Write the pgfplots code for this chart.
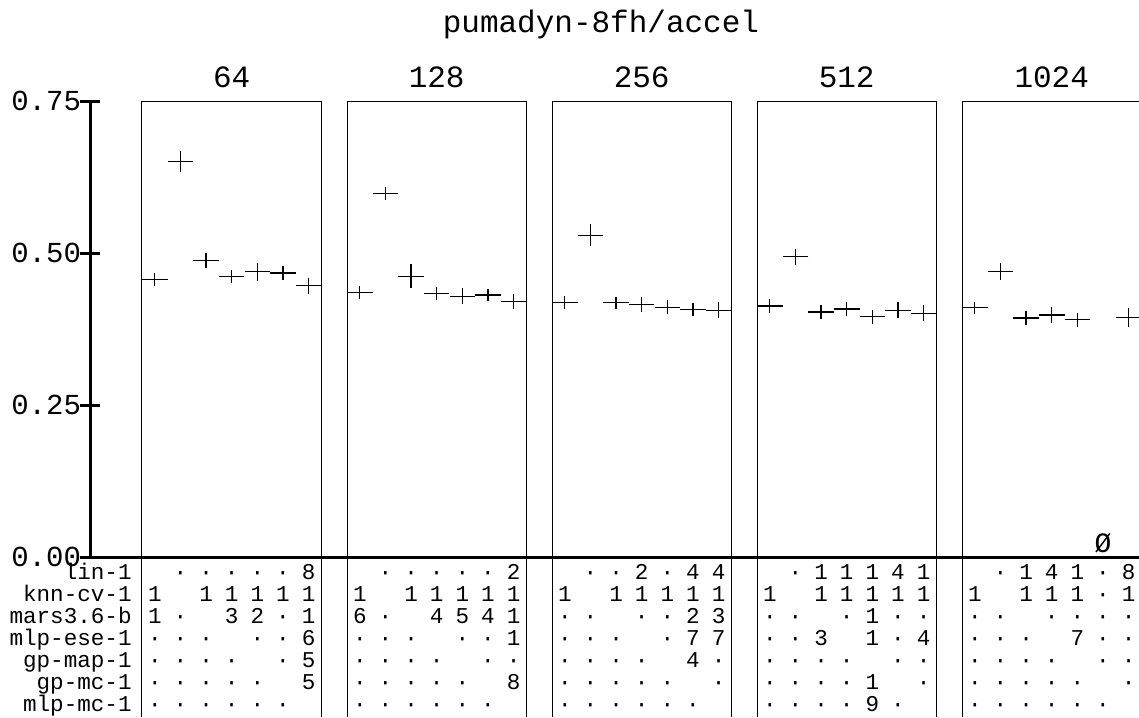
\documentclass[border=0pt]{standalone}
\usepackage{pgfplots}
\pgfplotsset{compat=1.18}
\usepackage{pgfplotstable}
\usepackage{fontspec}
\setmainfont{Liberation Mono}

% x = 8*panel + slot + 0.5, y = mean, e = half error bar
\pgfplotstableread{
x y e
0.5 0.456 0.011
1.5 0.651 0.017
2.5 0.488 0.012
3.5 0.461 0.011
4.5 0.469 0.015
5.5 0.467 0.011
6.5 0.446 0.013
8.5 0.435 0.010
9.5 0.598 0.010
10.5 0.462 0.020
11.5 0.433 0.011
12.5 0.429 0.013
13.5 0.431 0.010
14.5 0.420 0.012
16.5 0.419 0.011
17.5 0.529 0.018
18.5 0.418 0.010
19.5 0.415 0.012
20.5 0.411 0.012
21.5 0.407 0.011
22.5 0.406 0.013
24.5 0.413 0.012
25.5 0.494 0.013
26.5 0.403 0.012
27.5 0.408 0.012
28.5 0.395 0.012
29.5 0.406 0.013
30.5 0.401 0.013
32.5 0.410 0.010
33.5 0.470 0.014
34.5 0.393 0.011
35.5 0.398 0.013
36.5 0.390 0.012
38.5 0.394 0.016
}\results

\newcommand\bigfont{\fontsize{15.5}{18}\selectfont}
\newcommand\tabfont{\fontsize{11.3}{13}\selectfont}
% #1 panel, #2 row, #3 seven cells
\newcommand\tabrow[3]{%
  \foreach \v [count=\j from 0] in {#3}{%
    \node[anchor=base, font=\tabfont, inner sep=0pt]
      at ({26pt+12.8125pt*(8*#1+\j+0.5)}, {-11.25pt-11pt*#2}) {\v};}}

\begin{document}
\begin{tikzpicture}
\begin{axis}[
  scale only axis, width=524.5pt, height=228pt,
  xmin=-2.029, xmax=38.907, ymin=0, ymax=0.75,
  axis lines=left, axis line style={line width=1.5pt,-},
  xtick=\empty, ytick={0,0.25,0.5,0.75},
  yticklabel style={xshift=4pt, /pgf/number format/.cd, fixed, fixed zerofill, precision=2},
  /pgf/number format/assume math mode=true,
  tick align=center, major tick length=10pt,
  tick style={line width=1.5pt, black},
  ticklabel style={font=\fontsize{14.5}{17}\selectfont},
  clip=false,
]
\draw[line width=0.5pt] (axis cs:0,-0.2632) -- (axis cs:0,0.75) -- (axis cs:7,0.75) -- (axis cs:7,-0.2632);
\draw[line width=0.5pt] (axis cs:8,-0.2632) -- (axis cs:8,0.75) -- (axis cs:15,0.75) -- (axis cs:15,-0.2632);
\draw[line width=0.5pt] (axis cs:16,-0.2632) -- (axis cs:16,0.75) -- (axis cs:23,0.75) -- (axis cs:23,-0.2632);
\draw[line width=0.5pt] (axis cs:24,-0.2632) -- (axis cs:24,0.75) -- (axis cs:31,0.75) -- (axis cs:31,-0.2632);
\draw[line width=0.5pt] (axis cs:32,-0.2632) -- (axis cs:32,0.75) -- (axis cs:39,0.75) -- (axis cs:39,-0.2632);

\addplot[only marks, black, mark=-, mark size=6.4pt,
  mark options={line width=0.6pt},
  error bars/.cd, y dir=both, y explicit, error mark=none,
  error bar style={line width=0.6pt}]
  table[x=x, y=y, y error=e] {\results};

\node[anchor=base, font=\bigfont] at (axis cs:17.91,0.8635) {pumadyn-8fh/accel};
\node[anchor=base, font=\bigfont] at (axis cs:3.5,0.773) {64};
\node[anchor=base, font=\bigfont] at (axis cs:11.5,0.773) {128};
\node[anchor=base, font=\bigfont] at (axis cs:19.5,0.773) {256};
\node[anchor=base, font=\bigfont] at (axis cs:27.5,0.773) {512};
\node[anchor=base, font=\bigfont] at (axis cs:35.5,0.773) {1024};
\node[anchor=base, font=\fontsize{14}{16}\selectfont] at (axis cs:37.5,0.0082) {Ø};
\end{axis}

% row labels
\foreach \lab [count=\i from 0] in {lin-1,knn-cv-1,mars3.6-b,mlp-ese-1,gp-map-1,gp-mc-1,mlp-mc-1}
  \node[anchor=base east, font=\tabfont, inner sep=0pt] at (21pt,{-11.25pt-11pt*\i}) {\lab};

% panel 64
\tabrow{0}{0}{{},·,·,·,·,·,8}
\tabrow{0}{1}{1,{},1,1,1,1,1}
\tabrow{0}{2}{1,·,{},3,2,·,1}
\tabrow{0}{3}{·,·,·,{},·,·,6}
\tabrow{0}{4}{·,·,·,·,{},·,5}
\tabrow{0}{5}{·,·,·,·,·,{},5}
\tabrow{0}{6}{·,·,·,·,·,·,{}}
% panel 128
\tabrow{1}{0}{{},·,·,·,·,·,2}
\tabrow{1}{1}{1,{},1,1,1,1,1}
\tabrow{1}{2}{6,·,{},4,5,4,1}
\tabrow{1}{3}{·,·,·,{},·,·,1}
\tabrow{1}{4}{·,·,·,·,{},·,·}
\tabrow{1}{5}{·,·,·,·,·,{},8}
\tabrow{1}{6}{·,·,·,·,·,·,{}}
% panel 256
\tabrow{2}{0}{{},·,·,2,·,4,4}
\tabrow{2}{1}{1,{},1,1,1,1,1}
\tabrow{2}{2}{·,·,{},·,·,2,3}
\tabrow{2}{3}{·,·,·,{},·,7,7}
\tabrow{2}{4}{·,·,·,·,{},4,·}
\tabrow{2}{5}{·,·,·,·,·,{},·}
\tabrow{2}{6}{·,·,·,·,·,·,{}}
% panel 512
\tabrow{3}{0}{{},·,1,1,1,4,1}
\tabrow{3}{1}{1,{},1,1,1,1,1}
\tabrow{3}{2}{·,·,{},·,1,·,·}
\tabrow{3}{3}{·,·,3,{},1,·,4}
\tabrow{3}{4}{·,·,·,·,{},·,·}
\tabrow{3}{5}{·,·,·,·,1,{},·}
\tabrow{3}{6}{·,·,·,·,9,·,{}}
% panel 1024
\tabrow{4}{0}{{},·,1,4,1,·,8}
\tabrow{4}{1}{1,{},1,1,1,·,1}
\tabrow{4}{2}{·,·,{},·,·,·,·}
\tabrow{4}{3}{·,·,·,{},7,·,·}
\tabrow{4}{4}{·,·,·,·,{},·,·}
\tabrow{4}{5}{·,·,·,·,·,{},·}
\tabrow{4}{6}{·,·,·,·,·,·,{}}

\pgfresetboundingbox
\useasboundingbox (-45pt,-80pt) rectangle (524.5pt,278.5pt);
\end{tikzpicture}
\end{document}
